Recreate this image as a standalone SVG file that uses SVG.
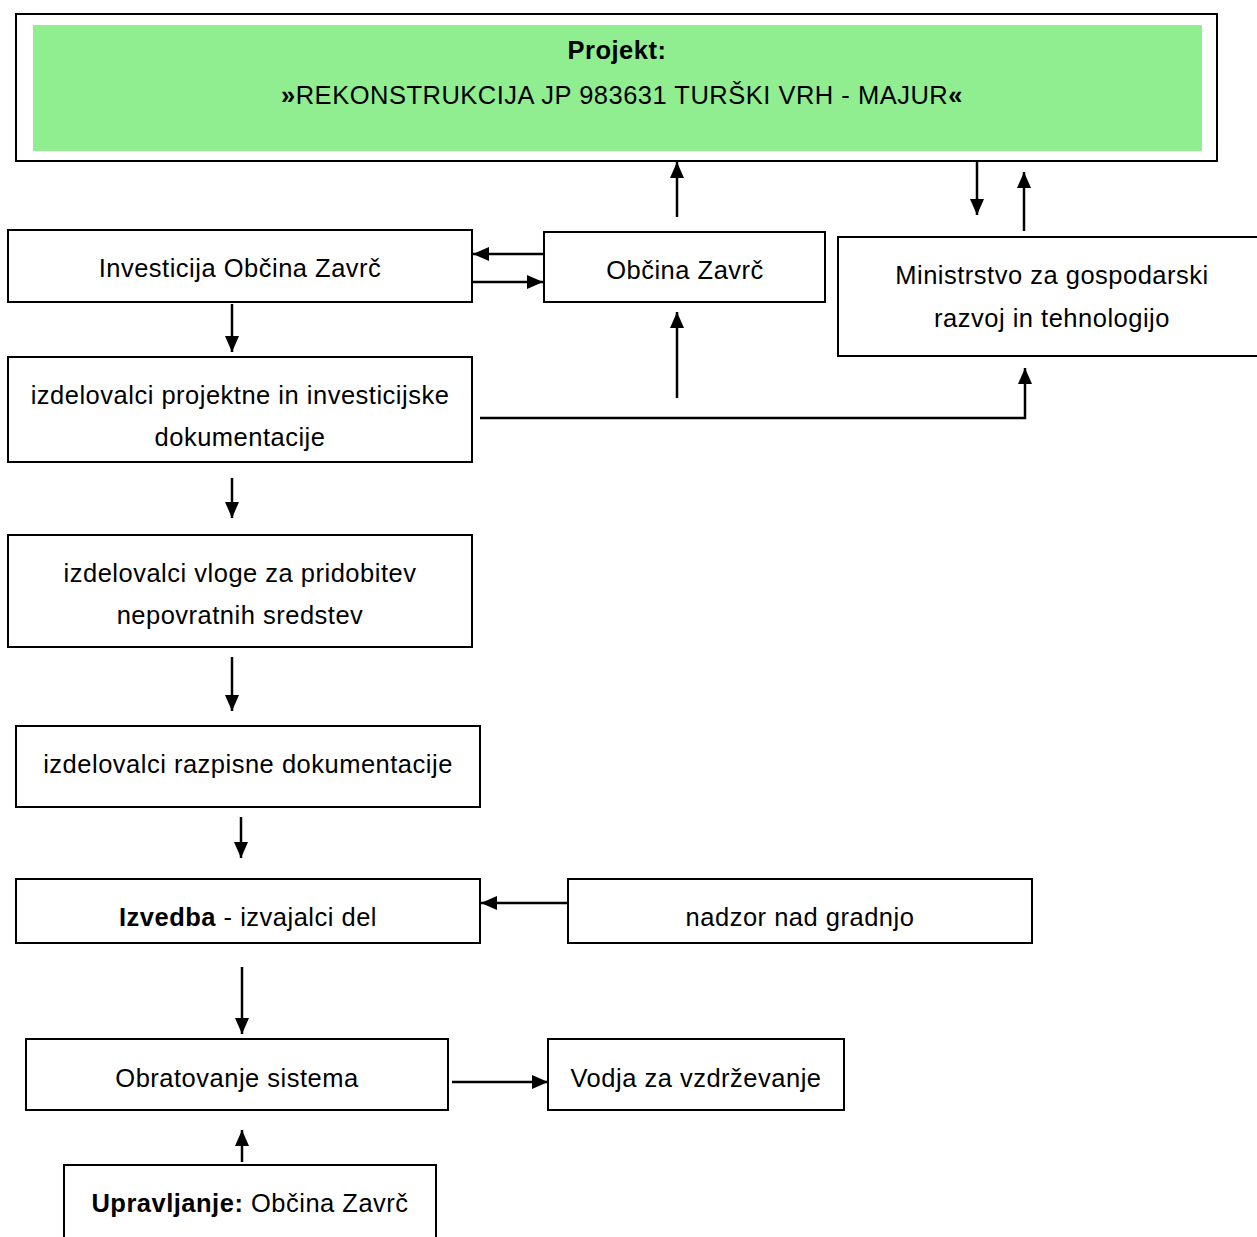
<svg xmlns="http://www.w3.org/2000/svg" width="1257" height="1237" viewBox="0 0 1257 1237">
<style>
.box{fill:#fff;stroke:#000;stroke-width:2}
.t{font-family:"Liberation Sans",Arial,sans-serif;font-size:25.5px;letter-spacing:0.5px;fill:#000;text-anchor:middle}
.b{font-weight:bold}
.c{stroke:#000;stroke-width:2.5;fill:none}
</style>
<defs>
<marker id="ah" markerUnits="userSpaceOnUse" markerWidth="18" markerHeight="14" refX="16" refY="7" orient="auto">
<path d="M0,0 L16,7 L0,14 Z" fill="#000"/>
</marker>
</defs>
<rect width="1257" height="1237" fill="#fff"/>
<g id="projekt">
<rect x="16" y="14" width="1201" height="147" class="box"/>
<rect x="33" y="25" width="1169" height="126" fill="#90EE90"/>
<text x="617" y="59" class="t b">Projekt:</text>
<text x="622" y="104" class="t"><tspan class="b">»</tspan>REKONSTRUKCIJA JP 983631 TURŠKI VRH - MAJUR<tspan class="b">«</tspan></text>
</g>
<g id="investicija">
<rect x="8" y="230" width="464" height="72" class="box"/>
<text x="240" y="277" class="t">Investicija Občina Zavrč</text>
</g>
<g id="obcina">
<rect x="544" y="232" width="281" height="70" class="box"/>
<text x="685" y="279" class="t">Občina Zavrč</text>
</g>
<g id="ministrstvo">
<rect x="838" y="237" width="430" height="119" class="box"/>
<text x="1052" y="284" class="t">Ministrstvo za gospodarski</text>
<text x="1052" y="327" class="t">razvoj in tehnologijo</text>
</g>
<g id="projektna">
<rect x="8" y="357" width="464" height="105" class="box"/>
<text x="240" y="404" class="t">izdelovalci projektne in investicijske</text>
<text x="240" y="446" class="t">dokumentacije</text>
</g>
<g id="vloge">
<rect x="8" y="535" width="464" height="112" class="box"/>
<text x="240" y="582" class="t">izdelovalci vloge za pridobitev</text>
<text x="240" y="624" class="t">nepovratnih sredstev</text>
</g>
<g id="razpisne">
<rect x="16" y="726" width="464" height="81" class="box"/>
<text x="248" y="773" class="t">izdelovalci razpisne dokumentacije</text>
</g>
<g id="izvedba">
<rect x="16" y="879" width="464" height="64" class="box"/>
<text x="248" y="926" class="t"><tspan class="b">Izvedba</tspan> - izvajalci del</text>
</g>
<g id="nadzor">
<rect x="568" y="879" width="464" height="64" class="box"/>
<text x="800" y="926" class="t">nadzor nad gradnjo</text>
</g>
<g id="obratovanje">
<rect x="26" y="1039" width="422" height="71" class="box"/>
<text x="237" y="1087" class="t">Obratovanje sistema</text>
</g>
<g id="vodja">
<rect x="548" y="1039" width="296" height="71" class="box"/>
<text x="696" y="1087" class="t">Vodja za vzdrževanje</text>
</g>
<g id="upravljanje">
<rect x="64" y="1165" width="372" height="90" class="box"/>
<text x="250" y="1212" class="t"><tspan class="b">Upravljanje:</tspan> Občina Zavrč</text>
</g>
<g id="connectors">
<line x1="677" y1="217" x2="677" y2="162" class="c" marker-end="url(#ah)"/>
<line x1="544" y1="254" x2="473" y2="254" class="c" marker-end="url(#ah)"/>
<line x1="473" y1="282" x2="543" y2="282" class="c" marker-end="url(#ah)"/>
<line x1="977" y1="161" x2="977" y2="215" class="c" marker-end="url(#ah)"/>
<line x1="1024" y1="231" x2="1024" y2="172" class="c" marker-end="url(#ah)"/>
<line x1="232" y1="304" x2="232" y2="352" class="c" marker-end="url(#ah)"/>
<line x1="677" y1="398" x2="677" y2="312" class="c" marker-end="url(#ah)"/>
<polyline points="480,418 1025,418 1025,368" class="c" marker-end="url(#ah)"/>
<line x1="232" y1="478" x2="232" y2="518" class="c" marker-end="url(#ah)"/>
<line x1="232" y1="657" x2="232" y2="711" class="c" marker-end="url(#ah)"/>
<line x1="241" y1="817" x2="241" y2="858" class="c" marker-end="url(#ah)"/>
<line x1="568" y1="903" x2="481" y2="903" class="c" marker-end="url(#ah)"/>
<line x1="242" y1="967" x2="242" y2="1034" class="c" marker-end="url(#ah)"/>
<line x1="452" y1="1082" x2="548" y2="1082" class="c" marker-end="url(#ah)"/>
<line x1="242" y1="1162" x2="242" y2="1130" class="c" marker-end="url(#ah)"/>
</g>
</svg>
